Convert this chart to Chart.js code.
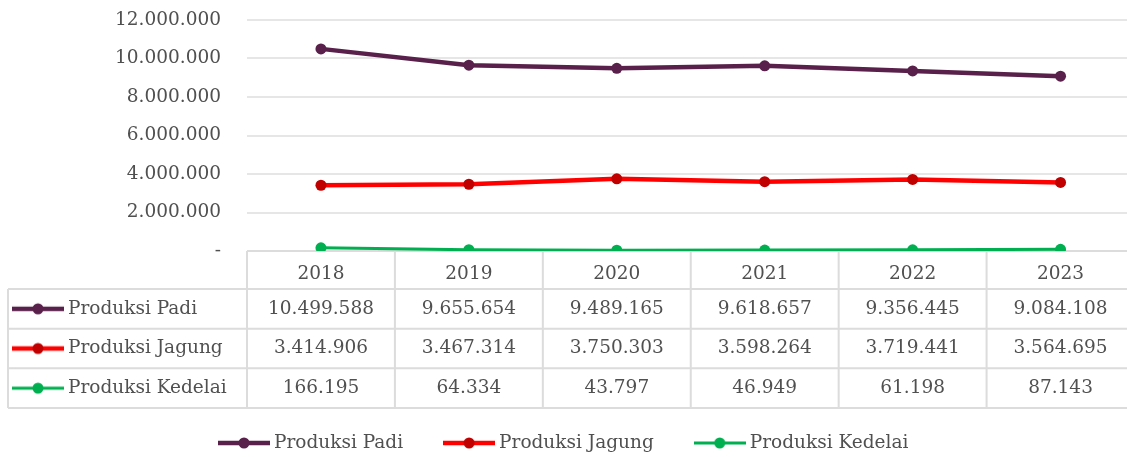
<!DOCTYPE html>
<html>
<head>
<meta charset="utf-8">
<script src="https://cdn.jsdelivr.net/npm/chart.js@4.4.0/dist/chart.umd.min.js"></script>
<style>
    html, body { margin: 0; padding: 0; background: #fff; overflow: hidden; }
    #wrap { width: 1140px; height: 457px; position: relative; }
</style>
</head>
<body>
<div id="wrap"><canvas id="chart"></canvas></div>
<script>
const years = ['2018', '2019', '2020', '2021', '2022', '2023'];
const produksiPadi = [10499588, 9655654, 9489165, 9618657, 9356445, 9084108];
const produksiJagung = [3414906, 3467314, 3750303, 3598264, 3719441, 3564695];
const produksiKedelai = [166195, 64334, 43797, 46949, 61198, 87143];
const seriesNames = ['Produksi Padi', 'Produksi Jagung', 'Produksi Kedelai'];
const yMax = 12000000;
const yStep = 2000000;

const FONT = '"DejaVu Serif", serif';
const FONT_SIZE = 18.5;
const TEXT = '#505050';
const LINE = '#dcdcdc';

function fmt(n) {
    if (n === 0) return '-';
    return String(n).replace(/\B(?=(\d{3})+(?!\d))/g, '.');
}

// little line + dot marker, same as in excel legend
function makeMarker(lineColor, dotColor, lw) {
    const c = document.createElement('canvas');
    c.width = 52; c.height = 14;
    const g = c.getContext('2d');
    g.strokeStyle = lineColor;
    g.lineWidth = lw;
    g.beginPath(); g.moveTo(0, 7); g.lineTo(52, 7); g.stroke();
    g.fillStyle = dotColor;
    g.beginPath(); g.arc(26, 7, 5.5, 0, Math.PI * 2); g.fill();
    return c;
}

const colors = [
    { line: '#58204a', dot: '#58204a', lw: 4.5 },
    { line: '#ff0000', dot: '#c00000', lw: 4.5 },
    { line: '#00b050', dot: '#00b050', lw: 3 }
];
const markers = colors.map(c => makeMarker(c.line, c.dot, c.lw));
const rows = [produksiPadi, produksiJagung, produksiKedelai];

const tablePlugin = {
    id: 'dataTable',
    beforeDatasetsDraw(chart) {
        const ctx = chart.ctx;
        const x = chart.scales.x;
        const top = x.top;
        const bottom = x.bottom;
        const headerH = 38;
        const rowH = (bottom - top - headerH) / 3;
        const colW = x.width / years.length;
        const tableLeft = 8;

        ctx.save();
        ctx.strokeStyle = LINE;
        ctx.lineWidth = 2;
        ctx.beginPath();
        // header top
        ctx.moveTo(x.left, top); ctx.lineTo(x.right, top);
        for (let r = 0; r <= 3; r++) {
            const y = top + headerH + r * rowH;
            ctx.moveTo(tableLeft, y); ctx.lineTo(x.right, y);
        }
        ctx.moveTo(tableLeft, top + headerH); ctx.lineTo(tableLeft, bottom);
        for (let i = 0; i <= years.length; i++) {
            const vx = x.left + i * colW;
            ctx.moveTo(vx, top); ctx.lineTo(vx, bottom);
        }
        ctx.stroke();

        ctx.font = FONT_SIZE + 'px ' + FONT;
        ctx.fillStyle = TEXT;
        ctx.textBaseline = 'middle';
        rows.forEach((vals, r) => {
            const cy = top + headerH + r * rowH + rowH / 2;
            ctx.drawImage(markers[r], 12, cy - 7);
            ctx.textAlign = 'left';
            ctx.fillText(seriesNames[r], 68, cy);
            ctx.textAlign = 'center';
            vals.forEach((v, i) => {
                ctx.fillText(fmt(v), x.getPixelForValue(i), cy);
            });
        });

        // legend below the table
        const widths = seriesNames.map(s => ctx.measureText(s).width);
        let lx = 218;
        const ly = 443;
        ctx.textAlign = 'left';
        seriesNames.forEach((s, i) => {
            ctx.drawImage(markers[i], lx, ly - 7);
            ctx.fillText(s, lx + 56, ly);
            lx += 56 + widths[i] + 40;
        });
        ctx.restore();
    }
};

const datasets = rows.map((vals, i) => ({
    label: seriesNames[i],
    data: vals,
    borderColor: colors[i].line,
    backgroundColor: colors[i].dot,
    pointBackgroundColor: colors[i].dot,
    pointBorderColor: colors[i].dot,
    borderWidth: colors[i].lw,
    pointRadius: 5.5,
    pointBorderWidth: 0,
    pointHoverRadius: 5.5,
    tension: 0,
    fill: false
}));

new Chart(document.getElementById('chart'), {
    type: 'line',
    data: { labels: years, datasets },
    options: {
        responsive: true,
        maintainAspectRatio: false,
        animation: false,
        layout: { padding: { top: 0, right: 2, bottom: 49, left: 0 } },
        plugins: {
            legend: { display: false },
            tooltip: { enabled: false }
        },
        scales: {
            x: {
                offset: true,
                grid: { display: false },
                border: { display: false },
                ticks: { color: TEXT, font: { family: FONT, size: FONT_SIZE }, padding: 4, maxRotation: 0 },
                afterFit(scale) { scale.height = 157; }
            },
            y: {
                min: 0,
                max: yMax,
                ticks: {
                    stepSize: yStep,
                    color: TEXT,
                    font: { family: FONT, size: FONT_SIZE },
                    padding: 26,
                    callback: v => fmt(v)
                },
                grid: { color: '#e6e6e6', lineWidth: 2, drawTicks: false },
                border: { display: false },
                afterFit(scale) {
                    scale.width = 247;
                    scale.paddingTop = 20;
                    scale.paddingBottom = 0;
                }
            }
        }
    },
    plugins: [tablePlugin]
});
</script>
</body>
</html>
